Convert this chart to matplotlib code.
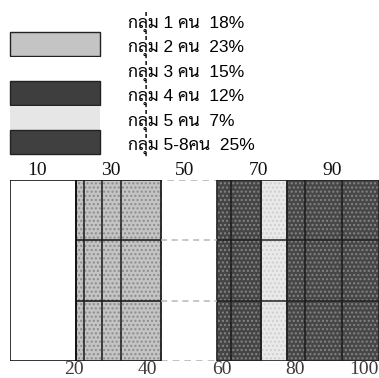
import matplotlib
matplotlib.use("Agg")
import matplotlib.pyplot as plt
from matplotlib import font_manager as fm
from matplotlib.patches import Patch, Rectangle
from matplotlib.legend_handler import HandlerPatch

# ---- data ----
labels = ["กลุ่ม 1 คน  18%", "กลุ่ม 2 คน  23%", "กลุ่ม 3 คน  15%",
          "กลุ่ม 4 คน  12%", "กลุ่ม 5 คน  7%", "กลุ่ม 5-8คน  25%"]
shares = [18, 23, 15, 12, 7, 25]
top_ticks = [10, 30, 50, 70, 90]
bottom_ticks = [20, 40, 60, 80, 100]
grid_x = [20, 25, 30, 60, 80, 90]
grid_y = [1 / 3, 2 / 3]

# ---- styles ----
colors = ["#ffffff", "#c4c4c4", "#ffffff", "#454545", "#e9e9e9", "#474747"]
hatches = [None, "....", None, "....", "....", "...."]
hatch_colors = ["#000000", "#8c8c8c", "#000000", "#858585", "#cfcfcf", "#858585"]
edge_colors = ["#111111", "#111111", "#b8b8b8", "#222222", "#222222", "#222222"]
edge_styles = ["-", "-", (0, (4, 3)), "-", "-", "-"]
leg_colors = ["#ffffff", "#c4c4c4", "#ffffff", "#3e3e3e", "#e6e6e6", "#404040"]
leg_edges = ["none", "#222222", "none", "#222222", "none", "#222222"]

avail = {f.name for f in fm.fontManager.ttflist}
thai = next((p for p in ["Sarabun", "Noto Sans Thai Looped", "Noto Sans Thai"]
             if p in avail), "DejaVu Sans")
family = ["Liberation Sans", thai]

fig = plt.figure(figsize=(3.79, 3.78), dpi=100)
ax = fig.add_axes([10 / 379, 17 / 378, 369 / 379, 181 / 378])

left = 0
bounds = []
for i, s in enumerate(shares):
    ax.barh(0.5, s, left=left, height=1.0, color=colors[i],
            edgecolor=hatch_colors[i], hatch=hatches[i], linewidth=0)
    bounds.append((left, left + s))
    left += s

# inner grid lines (not over the first, blank group)
for gy in grid_y:
    for i in range(1, len(shares)):
        a, b = bounds[i]
        ax.hlines(gy, a, b, color=edge_colors[i], lw=1.1, linestyle=edge_styles[i])
for gx in grid_x:
    ax.axvline(gx, color="#1a1a1a", lw=1.1)

# segment outlines: faint dashed first, solid ones on top
order = sorted(range(len(shares)), key=lambda k: edge_styles[k] == "-")
for i in order:
    a, b = bounds[i]
    ax.barh(0.5, shares[i], left=a, height=1.0, fill=False, edgecolor=edge_colors[i],
            linewidth=1.2, linestyle=edge_styles[i])

ax.set_xlim(0, 100)
ax.set_ylim(0, 1)
ax.set_yticks([])
for sp in ax.spines.values():
    sp.set_visible(False)
ax.set_xticks(bottom_ticks)
ax.set_xticklabels([str(t) for t in bottom_ticks], family="Liberation Serif",
                   fontsize=14, ha="right", color="#3a3a3a")
ax.tick_params(axis="x", length=0, pad=0)
sec = ax.secondary_xaxis("top")
sec.set_xticks(top_ticks)
sec.set_xticklabels([str(t) for t in top_ticks], family="Liberation Serif",
                    fontsize=14, ha="right", color="#111111")
sec.tick_params(axis="x", length=0, pad=1)
for sp in sec.spines.values():
    sp.set_visible(False)


def full_rect(legend, orig_handle, xdescent, ydescent, width, height, fontsize):
    return Rectangle((-xdescent, -ydescent), width, height + ydescent)


handles = [Patch(facecolor=leg_colors[i], edgecolor=leg_edges[i],
                 linewidth=1.0) for i in range(len(labels))]
leg = fig.legend(handles, labels, loc="upper left",
                 bbox_to_anchor=(10 / 379, 1 - 11.5 / 378), frameon=False,
                 prop={"family": family, "size": 12.5},
                 handlelength=5.2, handleheight=1.38, handletextpad=1.6,
                 labelspacing=0.135, borderpad=0, borderaxespad=0,
                 handler_map={Patch: HandlerPatch(patch_func=full_rect)})
fig.savefig("out.png", dpi=100)
